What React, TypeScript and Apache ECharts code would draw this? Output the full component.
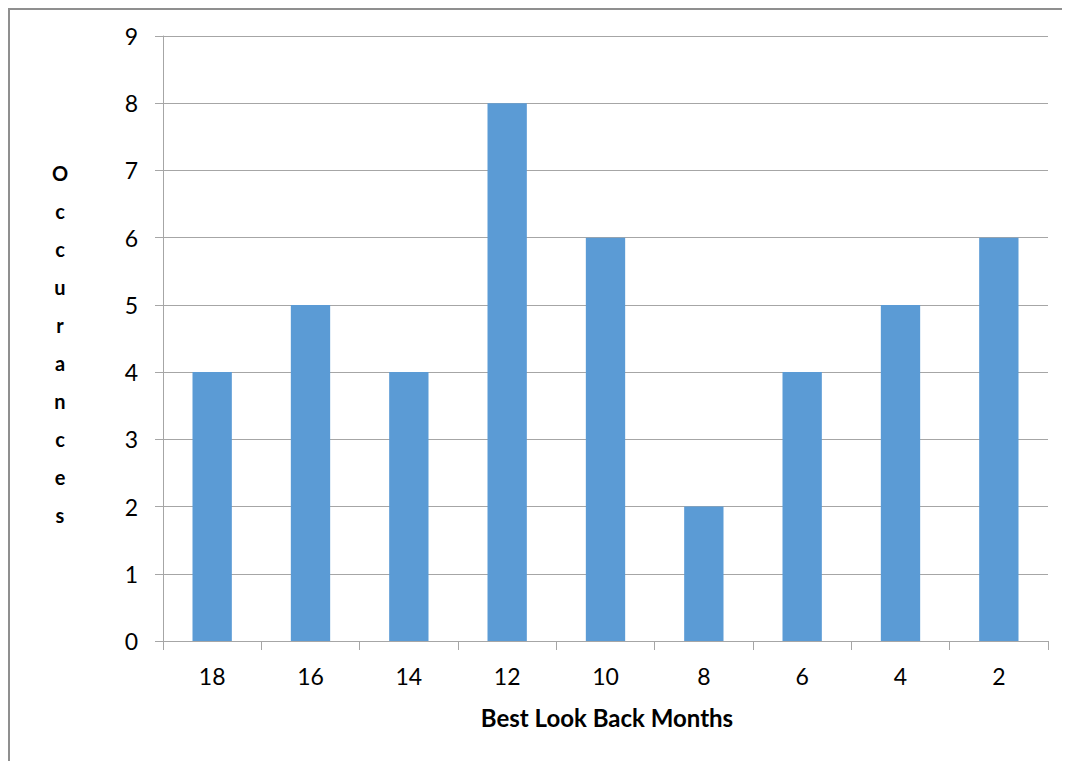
import React, { useEffect, useRef } from "react";
import * as echarts from "echarts";

const categories = ["18", "16", "14", "12", "10", "8", "6", "4", "2"];
const occurances = [4, 5, 4, 8, 6, 2, 4, 5, 6];
const yAxisTitle = "Occurances";
const xAxisTitle = "Best Look Back Months";

const FONT = "Lato, 'Open Sans', sans-serif";
const AXIS_GRAY = "#a6a6a6";

export default function App() {
  const ref = useRef<HTMLDivElement>(null);
  useEffect(() => {
    if (!ref.current) return;
    const chart = echarts.init(ref.current, undefined, { renderer: "svg" });
    chart.setOption({
      animation: false,
      grid: { left: 155, top: 28, right: 22, bottom: 120, containLabel: false },
      xAxis: {
        type: "category",
        data: categories,
        axisLine: { lineStyle: { color: AXIS_GRAY, width: 1 } },
        axisTick: { show: true, length: 9, lineStyle: { color: AXIS_GRAY } },
        axisLabel: { color: "#000", fontSize: 23, fontFamily: FONT, margin: 23 },
      },
      yAxis: {
        type: "value",
        min: 0,
        max: 9,
        interval: 1,
        axisLine: { show: true, lineStyle: { color: AXIS_GRAY, width: 1 } },
        axisTick: { show: true, length: 8, lineStyle: { color: AXIS_GRAY } },
        axisLabel: { color: "#000", fontSize: 23, fontFamily: FONT, margin: 25 },
        splitLine: { show: true, lineStyle: { color: AXIS_GRAY, width: 1 } },
      },
      series: [
        {
          type: "bar",
          data: occurances,
          barWidth: "40%",
          itemStyle: { color: "#5b9bd5" },
        },
      ],
      graphic: [
        { type: "line", shape: { x1: 0, y1: 1, x2: 1062, y2: 1 }, style: { stroke: "#8f8f8f", lineWidth: 2 } },
        { type: "line", shape: { x1: 1, y1: 0, x2: 1, y2: 753 }, style: { stroke: "#8f8f8f", lineWidth: 2 } },
        {
          type: "text",
          x: 52,
          y: 336,
          style: {
            text: yAxisTitle.split("").join("\n"),
            font: `bold 20px ${FONT}`,
            lineHeight: 38.1,
            align: "center",
            verticalAlign: "middle",
            fill: "#000",
          },
        },
        {
          type: "text",
          x: 599,
          y: 709,
          style: {
            text: xAxisTitle,
            font: `bold 24px ${FONT}`,
            align: "center",
            verticalAlign: "middle",
            fill: "#000",
          },
        },
      ],
    });
    return () => chart.dispose();
  }, []);
  return <div ref={ref} style={{ width: 1062, height: 753 }} />;
}
